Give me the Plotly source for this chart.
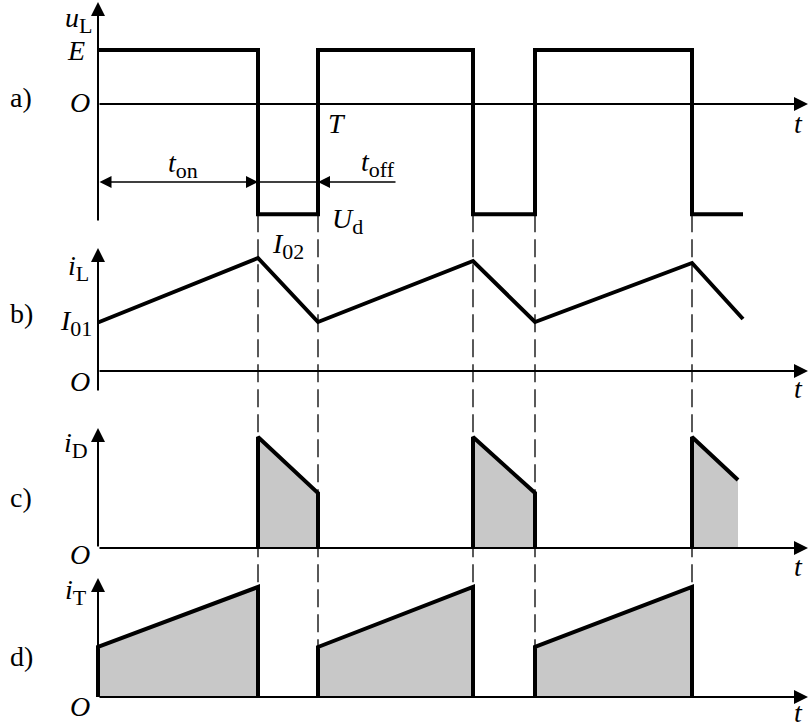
import plotly.graph_objects as go

W, H = 809, 725

# ---------------- data ----------------
switch_t = [0.0, 1.60, 2.20, 3.75, 4.37, 5.94, 6.45]      # switching instants / end of trace
E_level = 1.0
Ud_level = -2.04
uL = [E_level, Ud_level, E_level, Ud_level, E_level, Ud_level, Ud_level]
iL = [0.97, 2.26, 0.98, 2.20, 0.98, 2.16, 1.04]
iD_t = [[1.60, 2.20], [3.75, 4.37], [5.94, 6.40]]
iD_v = [[2.22, 1.10], [2.22, 1.10], [2.22, 1.36]]
iD_right_edge = [True, True, False]
iT_t = [[0.0, 1.60], [2.20, 3.75], [4.37, 5.94]]
iT_v = [[1.00, 2.20], [1.00, 2.20], [1.00, 2.20]]
dash_t = [1.60, 2.20, 3.75, 4.37, 5.94]
t_on_span = [0.0, 1.60]
t_off_span = [2.20, 2.99]
t_axis_end = 7.10

# ---------------- layout helpers ----------------
panels = {
    "y":  dict(top=0,   bottom=225, zero=104, scale=54),
    "y2": dict(top=230, bottom=400, zero=371, scale=50),
    "y3": dict(top=405, bottom=560, zero=548, scale=50),
    "y4": dict(top=565, bottom=725, zero=697, scale=50),
}
axis_tops = {"y": 2, "y2": 248, "y3": 428, "y4": 578}
axis_bottoms = {"y": 222, "y2": 392, "y3": 548, "y4": 697}


def val(key, py):
    p = panels[key]
    return (p["zero"] - py) / p["scale"]


def yaxis_cfg(p):
    return dict(domain=[1 - p["bottom"] / H, 1 - p["top"] / H],
                range=[(p["zero"] - p["bottom"]) / p["scale"], (p["zero"] - p["top"]) / p["scale"]],
                visible=False, fixedrange=True)


def to_paper(key, v):
    p = panels[key]
    return 1 - (p["zero"] - v * p["scale"]) / H


FONT = "Liberation Serif"
BLACK = "#000000"
GRAY = "#c8c8c8"
THICK = 4

fig = go.Figure()

# u_L waveform
fig.add_trace(go.Scatter(x=switch_t, y=uL, mode="lines", line=dict(color=BLACK, width=THICK, shape="hv"),
                         xaxis="x", yaxis="y", hoverinfo="skip"))
# i_L waveform
fig.add_trace(go.Scatter(x=switch_t, y=iL, mode="lines", line=dict(color=BLACK, width=THICK),
                         xaxis="x", yaxis="y2", hoverinfo="skip"))

# i_D pulses
for (a, b), (hi, lo), right in zip(iD_t, iD_v, iD_right_edge):
    fig.add_trace(go.Scatter(x=[a, a, b, b, a], y=[0, hi, lo, 0, 0], mode="lines", fill="toself",
                             fillcolor=GRAY, line=dict(width=0), xaxis="x", yaxis="y3", hoverinfo="skip"))
    xs, ys = [a, a, b], [0, hi, lo]
    if right:
        xs.append(b)
        ys.append(0)
    fig.add_trace(go.Scatter(x=xs, y=ys, mode="lines", line=dict(color=BLACK, width=THICK),
                             xaxis="x", yaxis="y3", hoverinfo="skip"))

# i_T pulses
for (a, b), (lo, hi) in zip(iT_t, iT_v):
    fig.add_trace(go.Scatter(x=[a, a, b, b, a], y=[0, lo, hi, 0, 0], mode="lines", fill="toself",
                             fillcolor=GRAY, line=dict(width=0), xaxis="x", yaxis="y4", hoverinfo="skip"))
    fig.add_trace(go.Scatter(x=[a, a, b, b], y=[0, lo, hi, 0], mode="lines", line=dict(color=BLACK, width=THICK),
                             xaxis="x", yaxis="y4", hoverinfo="skip"))

annotations = []
shapes = []

# axes with arrows
for key in panels:
    annotations.append(dict(x=0, y=val(key, axis_tops[key]), ax=0, ay=val(key, axis_bottoms[key]),
                            xref="x", yref=key, axref="x", ayref=key, text="", showarrow=True,
                            arrowhead=2, arrowsize=1.4, arrowwidth=2, arrowcolor=BLACK))
    annotations.append(dict(x=t_axis_end, y=0, ax=0, ay=0, xref="x", yref=key, axref="x", ayref=key,
                            text="", showarrow=True, arrowhead=2, arrowsize=1.4, arrowwidth=2,
                            arrowcolor=BLACK))

# dashed guide lines
for t in dash_t:
    shapes.append(dict(type="line", xref="x", yref="paper", x0=t, x1=t,
                       y0=to_paper("y", Ud_level), y1=to_paper("y4", 0),
                       line=dict(color=BLACK, width=1.3, dash="18px,7px"), layer="below"))

# t_on / t_off dimension arrows
y_dim = val("y", 182)
annotations.append(dict(x=t_on_span[1], y=y_dim, ax=t_on_span[0], ay=y_dim, xref="x", yref="y",
                        axref="x", ayref="y", text="", showarrow=True, arrowhead=2, startarrowhead=2,
                        arrowside="end+start", arrowsize=1.6, startarrowsize=1.6, arrowwidth=1.5,
                        arrowcolor=BLACK))
shapes.append(dict(type="line", xref="x", yref="y", x0=t_on_span[1], x1=t_off_span[0], y0=y_dim, y1=y_dim,
                   line=dict(color=BLACK, width=1.5)))
annotations.append(dict(x=t_off_span[0], y=y_dim, ax=t_off_span[1], ay=y_dim, xref="x", yref="y",
                        axref="x", ayref="y", text="", showarrow=True, arrowhead=2, arrowsize=1.6,
                        arrowwidth=1.5, arrowcolor=BLACK))

MAIN = 28
SUB = 22


def lab(text, px, py, size=MAIN):
    annotations.append(dict(text=text, x=px / W, y=1 - py / H, xref="paper", yref="paper",
                            showarrow=False, xanchor="center", yanchor="middle",
                            font=dict(family=FONT, size=size, color=BLACK)))


def sub(s):
    return '<sub><span style="font-size:%dpx">%s</span></sub>' % (SUB, s)


lab("<i>u</i>" + sub("L"), 78, 20)
lab("<i>E</i>", 76, 51)
lab("a)", 21, 97)
lab("<i>O</i>", 80, 103)
lab("<i>T</i>", 337, 124)
lab("<i>t</i>" + sub("on"), 183, 165)
lab("<i>t</i>" + sub("off"), 378, 164)
lab("<i>U</i>" + sub("d"), 347, 221)
lab("<i>I</i>" + sub("02"), 288, 246)
lab("<i>i</i>" + sub("L"), 78, 268)
lab("b)", 21, 313)
lab("<i>I</i>" + sub("01"), 76, 323)
lab("<i>O</i>", 80, 381)
lab("<i>i</i>" + sub("D"), 76, 445)
lab("c)", 21, 497)
lab("<i>O</i>", 80, 554)
lab("<i>i</i>" + sub("T"), 76, 592)
lab("d)", 21, 656)
lab("<i>O</i>", 80, 706)
for py in (124, 388, 566, 712):
    lab("<i>t</i>", 798, py)

fig.update_layout(
    width=W, height=H, margin=dict(l=0, r=0, t=0, b=0),
    paper_bgcolor="white", plot_bgcolor="white", showlegend=False,
    xaxis=dict(range=[-0.98, 7.11], visible=False, fixedrange=True, anchor="y4"),
    yaxis=yaxis_cfg(panels["y"]),
    yaxis2=yaxis_cfg(panels["y2"]),
    yaxis3=yaxis_cfg(panels["y3"]),
    yaxis4=yaxis_cfg(panels["y4"]),
    annotations=annotations, shapes=shapes,
)

fig.write_html("out.html", config={"displayModeBar": False},
               post_script="document.body.style.margin='0';document.body.style.overflow='hidden';")
